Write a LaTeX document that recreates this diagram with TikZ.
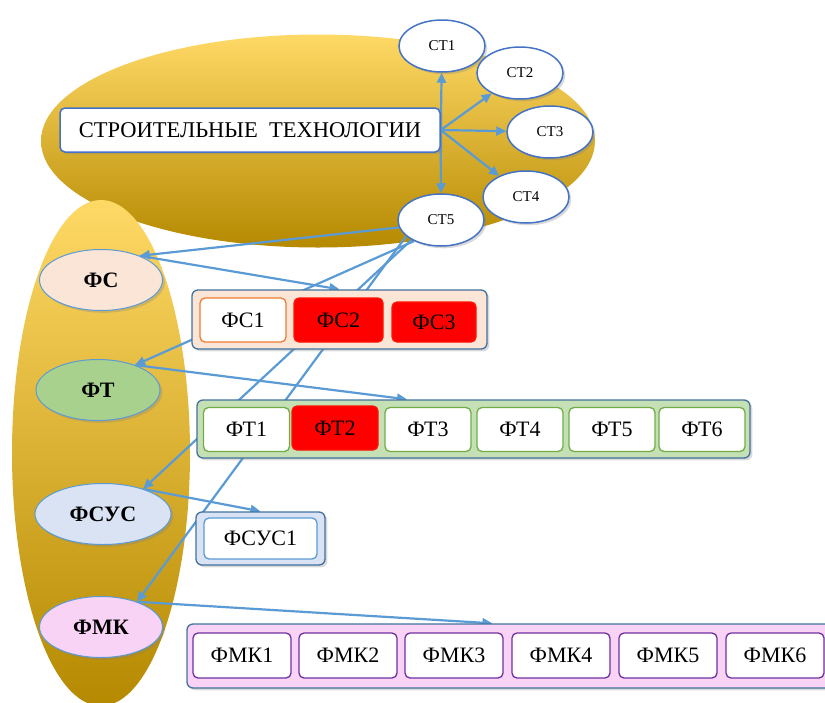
\documentclass[tikz,border=0pt]{standalone}
\usepackage{fontspec}
\setmainfont{Liberation Serif}
\usetikzlibrary{arrows.meta,positioning,calc,shapes.geometric,shadows}

\definecolor{linkblue}{HTML}{5B9BD5}
\definecolor{edgeblue}{HTML}{4472C4}
\definecolor{groupedge}{HTML}{41719C}
\definecolor{peach}{HTML}{FBE5D6}
\definecolor{leaf}{HTML}{A9D18E}
\definecolor{leaflight}{HTML}{C5E0B4}
\definecolor{sky}{HTML}{DAE3F3}
\definecolor{rose}{HTML}{F8D3F6}
\definecolor{amberlight}{HTML}{FFD966}
\definecolor{amber}{HTML}{FFC000}
\definecolor{amberdark}{HTML}{B58900}
\definecolor{orangeedge}{HTML}{ED7D31}
\definecolor{greenedge}{HTML}{70AD47}
\definecolor{purpleedge}{HTML}{7030A0}

\pgfdeclarelayer{bg}
\pgfdeclarelayer{links}
\pgfsetlayers{bg,links,main}

\begin{document}
\begin{tikzpicture}[
    x=1pt, y=-1pt,
    backdrop/.style={ellipse, top color=amberlight, middle color=amber, bottom color=amberdark, draw=none},
    techbox/.style={draw=edgeblue, fill=white, line width=1.5pt, rounded corners=5pt, minimum width=380, minimum height=44, font=\fontsize{22.5}{26}\selectfont, drop shadow={opacity=0.3}},
    stnode/.style={ellipse, draw=edgeblue, fill=white, line width=1.5pt, minimum width=86, minimum height=52, inner sep=0pt, font=\fontsize{15}{18}\selectfont, drop shadow={opacity=0.3}},
    factor/.style={ellipse, draw=linkblue, fill=#1, line width=1pt, minimum height=61, inner sep=0pt, font=\bfseries\fontsize{22}{26}\selectfont, drop shadow={opacity=0.3}},
    group/.style={draw=groupedge, fill=#1, line width=1.3pt, rounded corners=6pt, drop shadow={opacity=0.3}},
    item/.style={draw=#1, fill=white, line width=1.3pt, rounded corners=5pt, minimum width=86, minimum height=44, inner sep=0pt, font=\fontsize{22}{25}\selectfont},
    hot/.style={item=red!85!orange, fill=red},
    link/.style={-{Triangle[length=10pt, width=9pt]}, line width=2.2pt, draw=linkblue}
]
    \useasboundingbox (0,0) rectangle (825,702);

    % Background
    \begin{pgfonlayer}{bg}
        \node[backdrop, minimum width=554, minimum height=213] (techzone) at (318,141) {};
        \node[backdrop, minimum width=178, minimum height=506] (factorzone) at (101,453) {};
    \end{pgfonlayer}

    % Technologies
    \node[techbox] (tech) at (250,130) {СТРОИТЕЛЬНЫЕ\ \ ТЕХНОЛОГИИ};
    \node[stnode] (ct1) at (442,46) {СТ1};
    \node[stnode] (ct2) at (520,73) {СТ2};
    \node[stnode] (ct3) at (550,132) {СТ3};
    \node[stnode] (ct4) at (526,197) {СТ4};
    \node[stnode] (ct5) at (441,220) {СТ5};

    % Factors
    \node[factor=peach, minimum width=123] (fs) at (101,280) {ФС};
    \node[factor=leaf, minimum width=124] (ft) at (98,390) {ФТ};
    \node[factor=sky, minimum width=136] (fsus) at (103,514) {ФСУС};
    \node[factor=rose, minimum width=123] (fmk) at (101,627) {ФМК};

    % Groups
    \node[group=peach, minimum width=295, minimum height=59] (fsbox) at (339.5,319.5) {};
    \node[item=orangeedge] (fs1) at (243,320) {ФС1};
    \node[hot, minimum width=89] (fs2) at (338.5,320) {ФС2};
    \node[hot, minimum width=84, minimum height=40] (fs3) at (434,322) {ФС3};

    \node[group=leaflight, minimum width=553, minimum height=58] (ftbox) at (473.5,429) {};
    \foreach \i/\x in {1/246.5, 3/428, 4/520, 5/612, 6/702}
        \node[item=greenedge] (ft\i) at (\x,429.5) {ФТ\i};
    \node[hot] (ft2) at (335,428) {ФТ2};

    \node[group=sky, minimum width=129, minimum height=53] (fsusbox) at (260.5,538.5) {};
    \node[item=linkblue, minimum width=113, minimum height=41] (fsus1) at (260.5,538.5) {ФСУС1};

    \node[group=rose, minimum width=650, minimum height=64] (fmkbox) at (512,656) {};
    \foreach \i/\x in {1/242, 2/348, 3/454, 4/561, 5/668, 6/775}
        \node[item=purpleedge, minimum width=98, minimum height=45] (fmk\i) at (\x,655.5) {ФМК\i};

    % Links
    \begin{pgfonlayer}{links}
        \foreach \n in {ct1,ct2,ct3,ct4,ct5}
            \draw[link] (tech.east) -- (\n);
        \draw[link] (ct5.190) -- (fs.32);
        \draw[link] (ct5.218) -- (ft.34);
        \draw[link] (ct5.214) -- (fsus.32);
        \draw[link] (ct5.205) -- (fmk.35);
        \draw[link] (fs.32) -- (fsbox.north);
        \draw[link] (ft.34) -- ($(ftbox.north west)!0.38!(ftbox.north east)$);
        \draw[link] (fsus.32) -- (fsusbox.north);
        \draw[link] (fmk.35) -- ($(fmkbox.north west)!0.47!(fmkbox.north east)$);
    \end{pgfonlayer}
\end{tikzpicture}
\end{document}
